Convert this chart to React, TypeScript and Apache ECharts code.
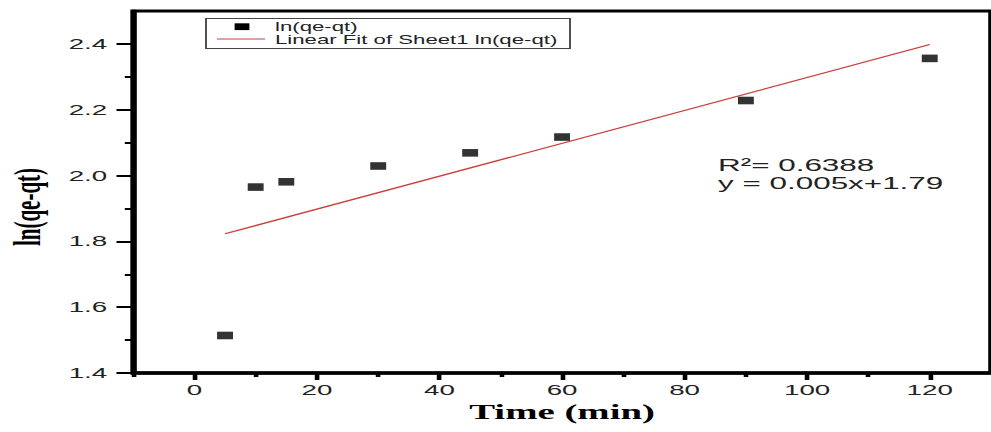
import React, { useEffect, useRef } from "react";
import * as echarts from "echarts";

// ---- data ----
const timeMin = [5, 10, 15, 30, 45, 60, 90, 120];
const lnQeQt = [1.514, 1.965, 1.981, 2.029, 2.069, 2.117, 2.228, 2.356];
const fitX = [5, 120];
const fitY = [1.823, 2.398];

const xMajorTicks = [0, 20, 40, 60, 80, 100, 120];
const xMinorTicks = [-10, 10, 30, 50, 70, 90, 110];
const yMajorTicks = [1.4, 1.6, 1.8, 2.0, 2.2, 2.4];
const yMinorTicks = [1.5, 1.7, 1.9, 2.1, 2.3];

const seriesName = "ln(qe-qt)";
const fitName = "Linear Fit of Sheet1 ln(qe-qt)";
const r2Text = "R\u00b2= 0.6388";
const eqText = "y = 0.005x+1.79";

// The reference image is horizontally stretched: draw narrow, stretch with CSS.
const W = 536;
const H = 432;
const S = 991 / W;
const px = (v: number) => v / S; // convert a stretched x position to chart x

const SANS = "'Liberation Sans', Arial, sans-serif";
const SERIF = "'Liberation Serif', 'Times New Roman', serif";

export default function App() {
  const ref = useRef<HTMLDivElement>(null);

  useEffect(() => {
    if (!ref.current) return;
    const chart = echarts.init(ref.current, undefined, { renderer: "svg", width: W, height: H });

    const xBase = { type: "value", min: -10, max: 130, position: "bottom", splitLine: { show: false } };
    const yBase = { type: "value", min: 1.4, max: 2.5, position: "left", splitLine: { show: false } };

    chart.setOption({
      animation: false,
      backgroundColor: "#fff",
      grid: {
        left: 72,
        right: -6,
        top: 11,
        bottom: 59,
        show: true,
        borderColor: "#000",
        borderWidth: 3,
        backgroundColor: "transparent",
      },
      xAxis: [
        {
          ...xBase,
          axisLine: { show: true, onZero: false, lineStyle: { color: "#000", width: 3.5 } },
          axisTick: { show: true, customValues: xMajorTicks, length: 7, lineStyle: { color: "#000", width: 2.5 } },
          axisLabel: {
            customValues: xMajorTicks,
            margin: 9,
            fontSize: 15,
            fontFamily: SANS,
            color: "#222",
          },
          name: "Time (min)",
          nameLocation: "middle",
          nameGap: 20,
          nameTextStyle: { fontFamily: SERIF, fontWeight: "bold", fontSize: 21, color: "#000" },
          z: 5,
        },
        {
          ...xBase,
          axisLine: { show: false, onZero: false },
          axisTick: { show: true, customValues: xMinorTicks, length: 4, lineStyle: { color: "#000", width: 2.5 } },
          axisLabel: { show: false },
          z: 5,
        },
      ],
      yAxis: [
        {
          ...yBase,
          axisLine: { show: true, onZero: false, lineStyle: { color: "#000", width: 3 } },
          axisTick: { show: true, customValues: yMajorTicks, length: 9, lineStyle: { color: "#000", width: 2 } },
          axisLabel: {
            customValues: yMajorTicks,
            margin: 14,
            fontSize: 15,
            fontFamily: SANS,
            color: "#222",
            formatter: (v: number) => v.toFixed(1),
          },
          z: 5,
        },
        {
          ...yBase,
          axisLine: { show: false, onZero: false },
          axisTick: { show: true, customValues: yMinorTicks, length: 4.5, lineStyle: { color: "#000", width: 2 } },
          axisLabel: { show: false },
          z: 5,
        },
      ],
      series: [
        {
          name: fitName,
          type: "line",
          data: fitX.map((x, i) => [x, fitY[i]]),
          symbol: "none",
          lineStyle: { color: "#c8403c", width: 1.2 },
          z: 2,
        },
        {
          name: seriesName,
          type: "scatter",
          data: timeMin.map((x, i) => [x, lnQeQt[i]]),
          symbol: "rect",
          symbolSize: [8.6, 7.6],
          itemStyle: { color: "#000" },
          z: 3,
        },
      ],
      graphic: [
        {
          type: "rect",
          shape: { x: px(206), y: 18.5, width: px(570) - px(206), height: 30 },
          style: { fill: "#fff", stroke: "#444", lineWidth: 1 },
          z: 10,
        },
        {
          type: "rect",
          shape: { x: px(242) - 4, y: 23.3, width: 8, height: 6.8 },
          style: { fill: "#000" },
          z: 11,
        },
        {
          type: "line",
          shape: { x1: px(217), y1: 39, x2: px(265), y2: 39 },
          style: { stroke: "#c8403c", lineWidth: 1.2 },
          z: 11,
        },
        {
          type: "text",
          x: px(275),
          y: 27,
          style: { text: seriesName, font: `12px ${SANS}`, fill: "#222", verticalAlign: "middle", align: "left" },
          z: 11,
        },
        {
          type: "text",
          x: px(275),
          y: 39.5,
          style: { text: fitName, font: `12px ${SANS}`, fill: "#222", verticalAlign: "middle", align: "left" },
          z: 11,
        },
        {
          type: "text",
          x: px(718),
          y: 165,
          style: { text: r2Text, font: `17px ${SANS}`, fill: "#222", verticalAlign: "middle", align: "left" },
          z: 11,
        },
        {
          type: "text",
          x: px(718),
          y: 183,
          style: { text: eqText, font: `17px ${SANS}`, fill: "#222", verticalAlign: "middle", align: "left" },
          z: 11,
        },
        {
          type: "text",
          x: px(27),
          y: 207,
          rotation: Math.PI / 2,
          style: {
            text: seriesName,
            font: `bold 21px ${SERIF}`,
            fill: "#000",
            verticalAlign: "middle",
            align: "center",
          },
          z: 11,
        },
      ],
    });

    return () => chart.dispose();
  }, []);

  return (
    <div
      style={{
        position: "fixed",
        left: 0,
        top: 0,
        width: 991,
        height: H,
        overflow: "hidden",
        background: "#fff",
      }}
    >
      <div
        ref={ref}
        style={{
          width: W,
          height: H,
          transform: `scaleX(${S})`,
          transformOrigin: "0 0",
        }}
      />
    </div>
  );
}
